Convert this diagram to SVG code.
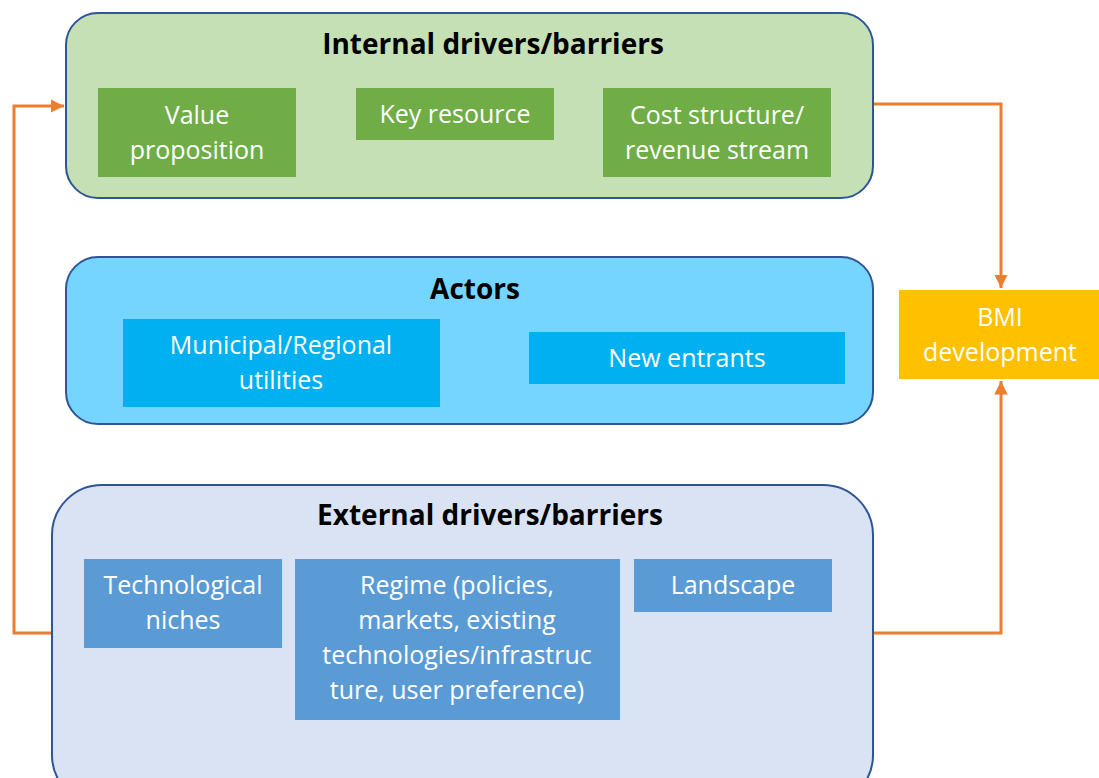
<svg xmlns="http://www.w3.org/2000/svg" width="1099" height="778" viewBox="0 0 1099 778">
<defs>
<style>
.grp{stroke:#2F5597;stroke-width:2}
.t{font-family:"Open Sans","Liberation Sans",sans-serif;font-size:25px;fill:#fff;text-anchor:middle}
.h{font-family:"Open Sans","Liberation Sans",sans-serif;font-size:28px;font-weight:bold;fill:#000;text-anchor:middle}
.c{fill:none;stroke:#ED7D31;stroke-width:3}
</style>
<marker id="ah" viewBox="0 0 10 10" refX="10" refY="5" markerWidth="4.5" markerHeight="4.5" orient="auto" markerUnits="strokeWidth">
<path d="M0,0 L10,5 L0,10 z" fill="#ED7D31"/>
</marker>
</defs>
<rect width="1099" height="778" fill="#fff"/>
<g id="connectors">
<path class="c" d="M873,104 H1001 V288" marker-end="url(#ah)"/>
<path class="c" d="M873,633 H1001 V381" marker-end="url(#ah)"/>
<path class="c" d="M52,633 H14 V106 H64" marker-end="url(#ah)"/>
</g>
<g id="internal">
<rect class="grp" x="66" y="13" width="807" height="185" rx="32" fill="#C5E0B4"/>
<text class="h" x="493" y="54">Internal drivers/barriers</text>
</g>
<g id="value-proposition">
<rect x="98" y="88" width="198" height="89" fill="#70AD47"/>
<text class="t" x="197" y="124">Value</text>
<text class="t" x="197" y="159">proposition</text>
</g>
<g id="key-resource">
<rect x="356" y="88" width="198" height="52" fill="#70AD47"/>
<text class="t" x="455" y="123">Key resource</text>
</g>
<g id="cost-structure">
<rect x="603" y="88" width="228" height="89" fill="#70AD47"/>
<text class="t" x="717" y="124">Cost structure/</text>
<text class="t" x="717" y="159">revenue stream</text>
</g>
<g id="actors">
<rect class="grp" x="66" y="257" width="807" height="167" rx="32" fill="#75D5FF"/>
<text class="h" x="475" y="299">Actors</text>
</g>
<g id="municipal">
<rect x="123" y="319" width="317" height="88" fill="#00B0F0"/>
<text class="t" x="281" y="354">Municipal/Regional</text>
<text class="t" x="281" y="389">utilities</text>
</g>
<g id="new-entrants">
<rect x="529" y="332" width="316" height="52" fill="#00B0F0"/>
<text class="t" x="687" y="367">New entrants</text>
</g>
<g id="external">
<rect class="grp" x="52" y="485" width="821" height="320" rx="50" fill="#DAE3F3"/>
<text class="h" x="490" y="525">External drivers/barriers</text>
</g>
<g id="tech-niches">
<rect x="84" y="559" width="198" height="89" fill="#5B9BD5"/>
<text class="t" x="183" y="594">Technological</text>
<text class="t" x="183" y="629">niches</text>
</g>
<g id="regime">
<rect x="295" y="559" width="325" height="161" fill="#5B9BD5"/>
<text class="t" x="457" y="594">Regime (policies,</text>
<text class="t" x="457" y="629">markets, existing</text>
<text class="t" x="457" y="664">technologies/infrastruc</text>
<text class="t" x="457" y="699">ture, user preference)</text>
</g>
<g id="landscape">
<rect x="634" y="559" width="198" height="53" fill="#5B9BD5"/>
<text class="t" x="733" y="594">Landscape</text>
</g>
<g id="bmi">
<rect x="899" y="290" width="200" height="89" fill="#FFC000"/>
<text class="t" x="1000" y="326">BMI</text>
<text class="t" x="1000" y="361">development</text>
</g>
</svg>
